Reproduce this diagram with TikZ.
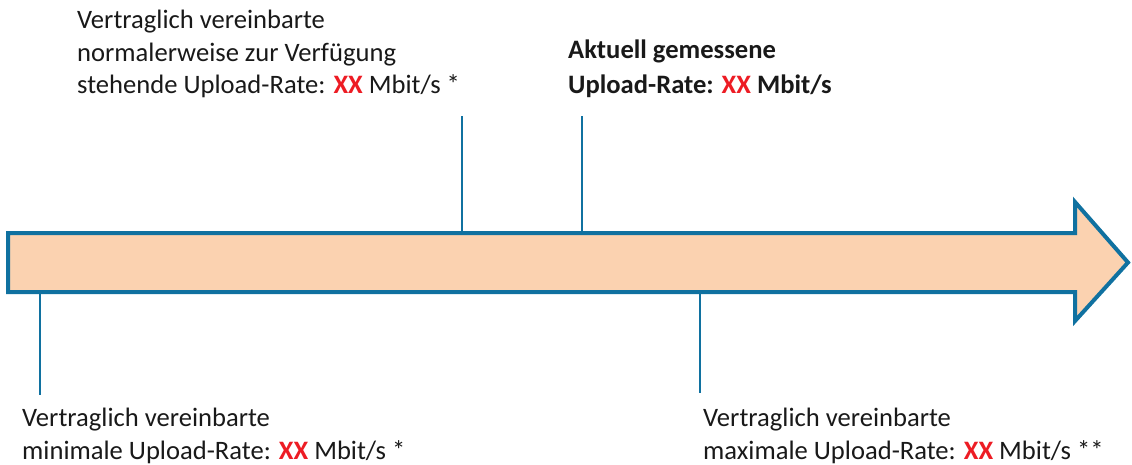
\documentclass[tikz,border=0pt]{standalone}
\usepackage{fontspec}
\setmainfont{Carlito}
\usepackage{xcolor}
\definecolor{arrowblue}{RGB}{16,113,160}
\definecolor{arrowfill}{RGB}{251,210,176}
\definecolor{xxred}{RGB}{237,28,36}
\newcommand{\xxval}{\textcolor{xxred}{\textbf{XX}}}
\tikzset{
  ratetext/.style={inner sep=0pt, anchor=base west, align=left, text=black!90,
    font=\fontsize{26.6}{32.5}\selectfont},
  ratebold/.style={ratetext, font=\fontsize{26.6}{35}\selectfont\bfseries},
  tick/.style={draw=arrowblue, line width=2.6pt},
}

\begin{document}
\begin{tikzpicture}[x=1pt,y=-1pt]
\useasboundingbox (0,0) rectangle (1132,465);
% rate axis
\draw[draw=arrowblue, fill=arrowfill, line width=4pt, line join=miter]
  (8,233) -- (1075,233) -- (1075,202) -- (1128,262.5) -- (1075,321) -- (1075,292) -- (8,292) -- cycle;
% tick marks
\coordinate (minrate) at (40,292); \coordinate (minend) at (40,395);
\coordinate (normrate) at (462,233); \coordinate (normend) at (462,116);
\coordinate (currate) at (582,233); \coordinate (curend) at (582,116);
\coordinate (maxrate) at (700,292); \coordinate (maxend) at (700,393);
\draw[tick] (minrate) -- (minend);
\draw[tick] (normrate) -- (normend);
\draw[tick] (currate) -- (curend);
\draw[tick] (maxrate) -- (maxend);
% labels (anchored at the baseline of the last line)
\node[ratetext] (normlabel) at (77,94) {Vertraglich vereinbarte\\normalerweise zur Verfügung\\stehende Upload-Rate: \xxval{} Mbit/s *};
\node[ratebold] (curlabel) at (568,94) {Aktuell gemessene\\Upload-Rate: \xxval{} Mbit/s};
\node[ratetext] (minlabel) at (22,459) {Vertraglich vereinbarte\\minimale Upload-Rate: \xxval{} Mbit/s *};
\node[ratetext] (maxlabel) at (703,459) {Vertraglich vereinbarte\\maximale Upload-Rate: \xxval{} Mbit/s **};
\end{tikzpicture}
\end{document}
